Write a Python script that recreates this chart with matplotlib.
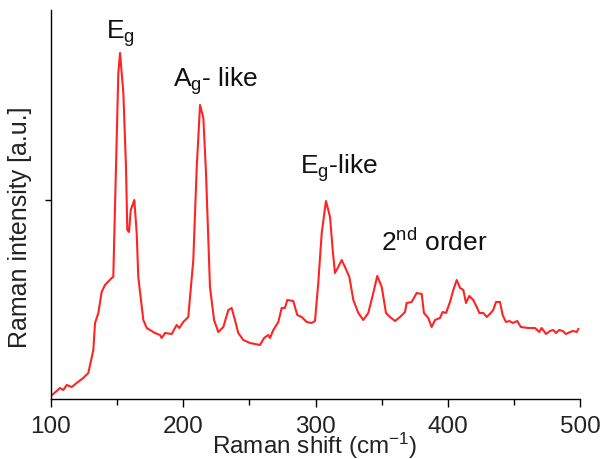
import matplotlib
matplotlib.use("Agg")
import matplotlib.pyplot as plt
from matplotlib.ticker import MultipleLocator

plt.rcParams['font.family'] = ['Liberation Sans', 'DejaVu Sans']
plt.rcParams['mathtext.default'] = 'regular'

shift = [100.0, 106.8, 109.3, 111.9, 115.7, 119.4, 124.4, 128.2, 132.0, 133.3,
         135.8, 138.3, 140.8, 145.9, 147.1, 150.9, 152.2, 154.7, 156.7, 157.7,
         159.0, 160.3, 163.0, 164.8, 166.0, 169.8, 172.4, 178.6, 182.4, 183.7,
         186.2, 191.3, 195.0, 197.0, 200.0, 203.8, 207.6, 210.2, 212.7, 215.2,
         217.2, 220.2, 223.3, 226.5, 230.3, 234.1, 236.6, 239.1, 241.6, 245.4,
         250.5, 258.0, 261.1, 264.3, 265.6, 268.1, 271.9, 274.4, 276.9, 278.7,
         283.2, 286.2, 289.6, 293.3, 297.1, 299.6, 302.1, 304.7, 307.9, 311.0,
         313.0, 314.7, 317.2, 319.8, 322.3, 325.6, 328.6, 332.4, 336.1, 339.9,
         343.7, 346.7, 350.1, 353.3, 356.3, 360.1, 363.9, 367.7, 368.9, 372.7,
         376.5, 380.3, 382.0, 385.3, 387.8, 390.4, 394.1, 396.1, 398.7, 401.7,
         404.2, 406.8, 409.3, 411.8, 413.8, 416.3, 419.3, 421.9, 423.9, 426.9,
         429.5, 432.5, 434.4, 436.5, 439.5, 441.5, 444.0, 446.6, 449.1, 452.6,
         455.2, 460.9, 466.0, 469.2, 471.0, 474.3, 477.3, 479.8, 481.9, 484.3,
         486.9, 489.4, 492.4, 494.9, 497.5, 498.7]
intensity = [3, 11, 9, 14, 12, 16, 21, 26, 49, 76,
             86, 107, 114, 121, 122, 326, 346, 306, 232, 169,
             167, 189, 199, 166, 122, 79, 71, 66, 64, 61,
             66, 65, 74, 71, 77, 82, 139, 232, 294, 281,
             226, 112, 79, 67, 72, 89, 91, 79, 66, 59,
             56, 54, 61, 64, 61, 69, 77, 91, 91, 99,
             98, 84, 82, 77, 76, 78, 116, 166, 198, 182,
             149, 126, 132, 139, 132, 122, 99, 86, 79, 86,
             106, 123, 112, 86, 82, 78, 82, 87, 96, 97,
             106, 105, 86, 81, 72, 79, 81, 87, 86, 97,
             109, 119, 111, 109, 96, 103, 99, 92, 86, 86,
             82, 86, 89, 97, 97, 84, 77, 78, 76, 78,
             72, 71, 71, 67, 71, 65, 68, 69, 66, 69,
             68, 65, 67, 68, 67, 70]

labels = ['E$_g$', 'A$_g$- like', 'E$_g$-like', '2$^{nd}$ order']
label_x = [152.2, 192.0, 288.3, 349.3]
label_y = [361, 313, 226, 149]
label_ha = ['center', 'left', 'left', 'left']

fig = plt.figure(figsize=(6.01, 4.60), dpi=100)
ax = fig.add_axes([51/601, 60/460, 529/601, 389/460])
ax.plot(shift, intensity, color='#ff2424', lw=1.5)

ax.set_xlim(100, 500)
ax.set_ylim(0, 389)
ax.xaxis.set_major_locator(MultipleLocator(100))
ax.xaxis.set_minor_locator(MultipleLocator(50))
ax.set_yticks([199])
ax.set_yticklabels([])
ax.tick_params(axis='x', which='major', length=6, width=1, labelsize=17.5, pad=5.5,
               labelcolor='#222222')
ax.tick_params(axis='x', which='minor', length=4, width=1)
ax.tick_params(axis='y', which='major', length=4, width=1)
for s in ['top', 'right']:
    ax.spines[s].set_visible(False)
for s in ['left', 'bottom']:
    ax.spines[s].set_linewidth(1)

fig.text(315/601, 6/460, 'Raman shift (cm$^{-1}$)', fontsize=17.5, ha='center',
         va='baseline', color='#222222')
ax.set_ylabel('Raman intensity [a.u.]', fontsize=18, color='#222222')
ax.yaxis.set_label_coords(-0.036, 0.445)

for t, x, y, ha in zip(labels, label_x, label_y, label_ha):
    ax.text(x, y, t, fontsize=19, ha=ha, va='baseline', color='#111111')

fig.savefig('out.png', dpi=100)
